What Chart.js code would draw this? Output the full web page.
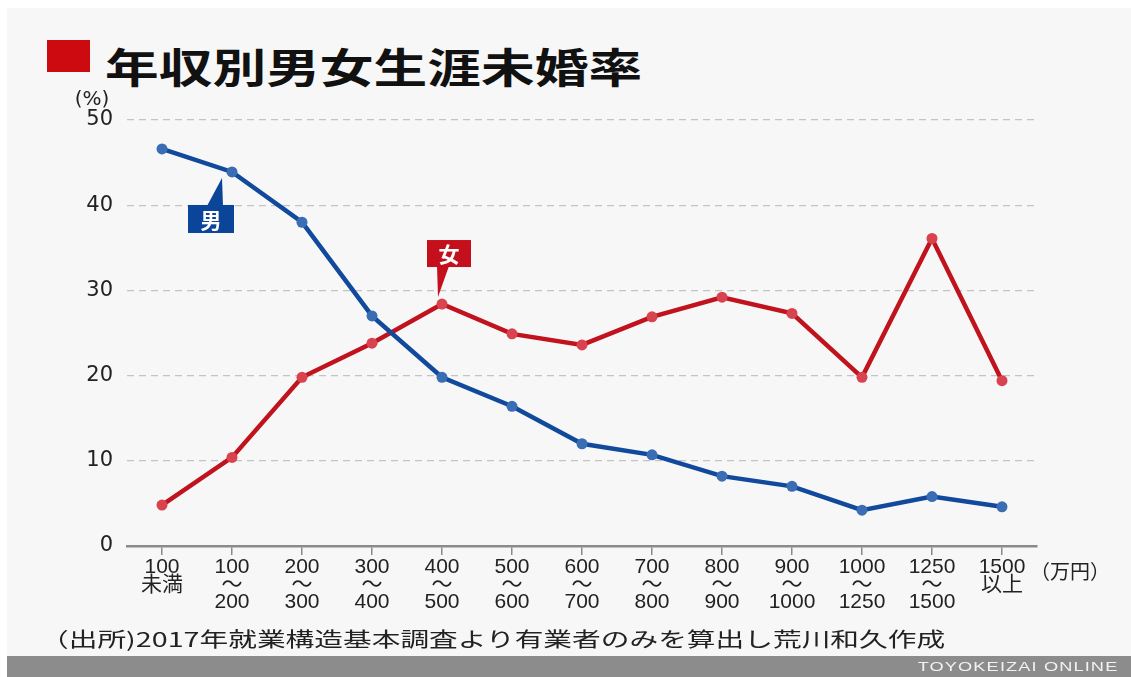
<!DOCTYPE html>
<html lang="ja">
<head>
<meta charset="utf-8">
<script src="https://cdn.jsdelivr.net/npm/chart.js@4/dist/chart.umd.min.js"></script>
<style>
  html, body { margin: 0; padding: 0; background: #ffffff; }
  body { width: 1131px; height: 677px; position: relative; overflow: hidden; }
  #panel { position: absolute; left: 7px; top: 8px; width: 1124px; height: 648px; background: #f7f7f7; }
  #mark { position: absolute; left: 47px; top: 40px; width: 43px; height: 32px; background: #cc0a0f; }
  #title { position: absolute; left: 105px; top: 35px; height: 40px; line-height: 40px; white-space: nowrap;
           font: bold 41px "Noto Sans CJK JP", sans-serif; color: #111; transform: scaleX(1.31); transform-origin: left center; }
  #source { position: absolute; left: 40px; top: 624px; line-height: 26px; white-space: nowrap;
            font: 20px "Noto Sans CJK JP", sans-serif; color: #222; transform: scaleX(1.435); transform-origin: left center; }
  #footer { position: absolute; left: 7px; top: 656px; width: 1124px; height: 21px; background: #8c8c8c; }
  #brand { position: absolute; right: 13px; top: 3px; line-height: 16px; white-space: nowrap;
           font: 13px "Liberation Sans", sans-serif; letter-spacing: 0.8px; color: #f2f2f2; transform: scaleX(1.4); transform-origin: right center; }
  #chart { position: absolute; left: 0; top: 0; }
</style>
</head>
<body>
<div id="panel"></div>
<div id="mark"></div>
<div id="title">年収別男女生涯未婚率</div>
<canvas id="chart" width="1131" height="677"></canvas>
<div id="source">（出所)2017年就業構造基本調査より有業者のみを算出し荒川和久作成</div>
<div id="footer"><span id="brand">TOYOKEIZAI ONLINE</span></div>
<script>
// income brackets (万円)
const INCOME_LABELS = [
    ['100', '未満'],
    ['100', '〜', '200'],
    ['200', '〜', '300'],
    ['300', '〜', '400'],
    ['400', '〜', '500'],
    ['500', '〜', '600'],
    ['600', '〜', '700'],
    ['700', '〜', '800'],
    ['800', '〜', '900'],
    ['900', '〜', '1000'],
    ['1000', '〜', '1250'],
    ['1250', '〜', '1500'],
    ['1500', '以上']
];

// lifetime unmarried rate (%)
const MEN = [46.6, 43.9, 38.0, 27.0, 19.8, 16.4, 12.0, 10.7, 8.2, 7.0, 4.2, 5.8, 4.6];
const WOMEN = [4.8, 10.4, 19.8, 23.8, 28.4, 24.9, 23.6, 26.9, 29.2, 27.3, 19.8, 36.1, 19.4];

const Y_MIN = 0;
const Y_MAX = 50;
const Y_STEP = 10;

const BLUE = '#114a9c';
const RED = '#c0131d';

// callouts, unit labels
const extrasPlugin = {
    id: 'extras',
    afterDatasetsDraw(chart) {
        const ctx = chart.ctx;
        const area = chart.chartArea;
        const xScale = chart.scales.x;

        ctx.save();
        // "(%)"
        ctx.fillStyle = '#222';
        ctx.font = '20px "DejaVu Sans", sans-serif';
        ctx.textAlign = 'center';
        ctx.textBaseline = 'middle';
        ctx.fillText('(%)', area.left - 35, area.top - 20);

        // "(万円)"
        ctx.font = '20px "Liberation Sans", "Noto Sans CJK JP", sans-serif';
        ctx.textAlign = 'left';
        const lastX = xScale.getPixelForValue(INCOME_LABELS.length - 1);
        ctx.fillText('（万円）', lastX + 28, area.bottom + 27);

        // 男 callout
        const pm = chart.getDatasetMeta(0).data[1];
        ctx.fillStyle = '#0b4599';
        ctx.beginPath();
        ctx.moveTo(pm.x - 25, pm.y + 34);
        ctx.lineTo(pm.x - 9, pm.y + 34);
        ctx.lineTo(pm.x - 10, pm.y + 6);
        ctx.closePath();
        ctx.fill();
        ctx.fillRect(pm.x - 44, pm.y + 33, 46, 28);
        ctx.fillStyle = '#fff';
        ctx.font = 'bold 21px "Noto Sans CJK JP", sans-serif';
        ctx.textAlign = 'center';
        ctx.fillText('男', pm.x - 21, pm.y + 48);

        // 女 callout
        const pw = chart.getDatasetMeta(1).data[4];
        ctx.fillStyle = '#c4101c';
        ctx.beginPath();
        ctx.moveTo(pw.x - 5, pw.y - 38);
        ctx.lineTo(pw.x + 7, pw.y - 38);
        ctx.lineTo(pw.x - 4, pw.y - 7);
        ctx.closePath();
        ctx.fill();
        ctx.fillRect(pw.x - 15, pw.y - 64, 44, 27);
        ctx.fillStyle = '#fff';
        ctx.fillText('女', pw.x + 7, pw.y - 50);
        ctx.restore();
    }
};

const ctx = document.getElementById('chart').getContext('2d');

new Chart(ctx, {
    type: 'line',
    data: {
        labels: INCOME_LABELS,
        datasets: [
            {
                label: '男',
                data: MEN,
                borderColor: BLUE,
                borderWidth: 4.5,
                pointRadius: 5.5,
                pointBackgroundColor: '#3b6db5',
                pointBorderWidth: 0,
                tension: 0
            },
            {
                label: '女',
                data: WOMEN,
                borderColor: RED,
                borderWidth: 4.5,
                pointRadius: 5.5,
                pointBackgroundColor: '#d9434f',
                pointBorderWidth: 0,
                tension: 0
            }
        ]
    },
    options: {
        responsive: false,
        animation: false,
        layout: {
            padding: { left: 0, right: 94, top: 120, bottom: 0 }
        },
        plugins: {
            legend: { display: false },
            tooltip: { enabled: false }
        },
        scales: {
            x: {
                type: 'category',
                offset: true,
                grid: {
                    offset: false,
                    drawOnChartArea: false,
                    drawTicks: true,
                    tickLength: 9,
                    color: '#8a8a8a',
                    lineWidth: 1.5
                },
                border: { display: true, color: '#8a8a8a', width: 2.5 },
                ticks: {
                    color: '#222',
                    maxRotation: 0,
                    autoSkip: false,
                    padding: 4,
                    font: { family: '"Liberation Sans", "Noto Sans CJK JP", sans-serif', size: 21, lineHeight: 0.82 }
                },
                afterFit(scale) { scale.height = 131; }
            },
            y: {
                min: Y_MIN,
                max: Y_MAX,
                grid: {
                    color: '#c4c4c4',
                    lineWidth: 1.2,
                    drawTicks: false
                },
                border: { display: false, dash: [7, 5] },
                ticks: {
                    stepSize: Y_STEP,
                    color: '#222',
                    padding: 14,
                    font: { family: '"DejaVu Sans", sans-serif', size: 21 }
                },
                afterFit(scale) { scale.width = 127; }
            }
        }
    },
    plugins: [extrasPlugin]
});
</script>
</body>
</html>
